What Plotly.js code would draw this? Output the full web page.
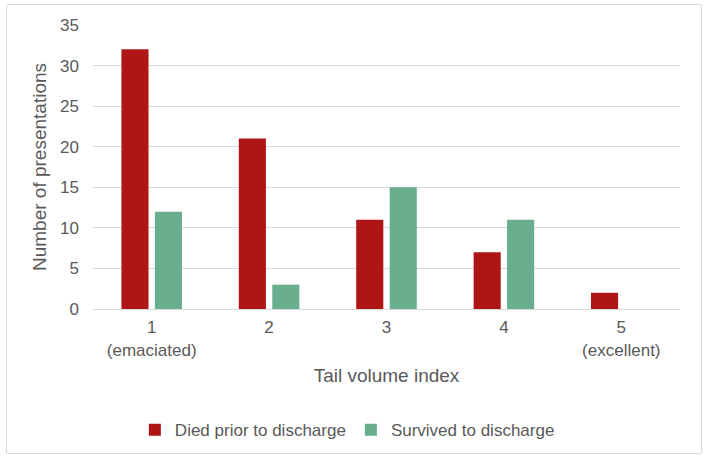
<!DOCTYPE html>
<html>
<head>
<meta charset="utf-8">
<script src="https://cdn.plot.ly/plotly-3.0.1.min.js"></script>
<style>
  html, body { margin: 0; padding: 0; background: #fff; }
  #chart { position: absolute; left: 0; top: 0; width: 706px; height: 459px; }
  #frame { position: absolute; left: 6px; top: 4px; width: 696px; height: 450px;
           border: 1px solid #d9d9d9; border-radius: 2px; box-sizing: border-box;
           pointer-events: none; }
</style>
</head>
<body>
<div id="chart"></div>
<div id="frame"></div>
<script>
// Tail volume index categories and counts per outcome
const categories = ['1', '2', '3', '4', '5'];
const tickLabels = ['1<br>(emaciated)', '2', '3', '4', '5<br>(excellent)'];
const died = [32, 21, 11, 7, 2];
const survived = [12, 3, 15, 11, null];

const family = 'Liberation Sans, Arial, sans-serif';
const grey = '#595959';

const traces = [
  { type: 'bar', name: 'Died prior to discharge', x: categories, y: died,
    marker: { color: '#B01516' }, hoverinfo: 'y' },
  { type: 'bar', name: 'Survived to discharge', x: categories, y: survived,
    marker: { color: '#69AE8E' }, hoverinfo: 'y' }
];

const layout = {
  width: 706, height: 459,
  margin: { l: 93, r: 26, t: 25, b: 150, autoexpand: false },
  paper_bgcolor: '#fff', plot_bgcolor: '#fff',
  font: { family: family, size: 17, color: grey },
  barmode: 'group', bargap: 0.43, bargroupgap: 0.19,
  showlegend: true,
  legend: { orientation: 'h', x: 0.492, xref: 'container', xanchor: 'center',
            y: 0.063, yref: 'container', yanchor: 'middle',
            font: { family: family, size: 17, color: grey },
            itemwidth: 30, traceorder: 'normal' },
  xaxis: {
    type: 'category', tickvals: categories, ticktext: tickLabels,
    showgrid: false, zeroline: false, showline: true, linecolor: '#d9d9d9', linewidth: 1,
    ticks: '', ticklabelstandoff: 3, automargin: false,
    tickfont: { family: family, size: 17, color: grey },
    title: { text: 'Tail volume index', font: { family: family, size: 19, color: grey }, standoff: 10 }
  },
  yaxis: {
    range: [0, 35], dtick: 5, tick0: 0, showgrid: true, gridcolor: '#d9d9d9', gridwidth: 1,
    zeroline: false, showline: false, ticks: '', ticklabelstandoff: 13, automargin: false,
    tickfont: { family: family, size: 17, color: grey },
    title: { text: 'Number of presentations', font: { family: family, size: 19, color: grey }, standoff: 8 }
  }
};

Plotly.newPlot('chart', traces, layout, { displayModeBar: false, staticPlot: true });
</script>
</body>
</html>
